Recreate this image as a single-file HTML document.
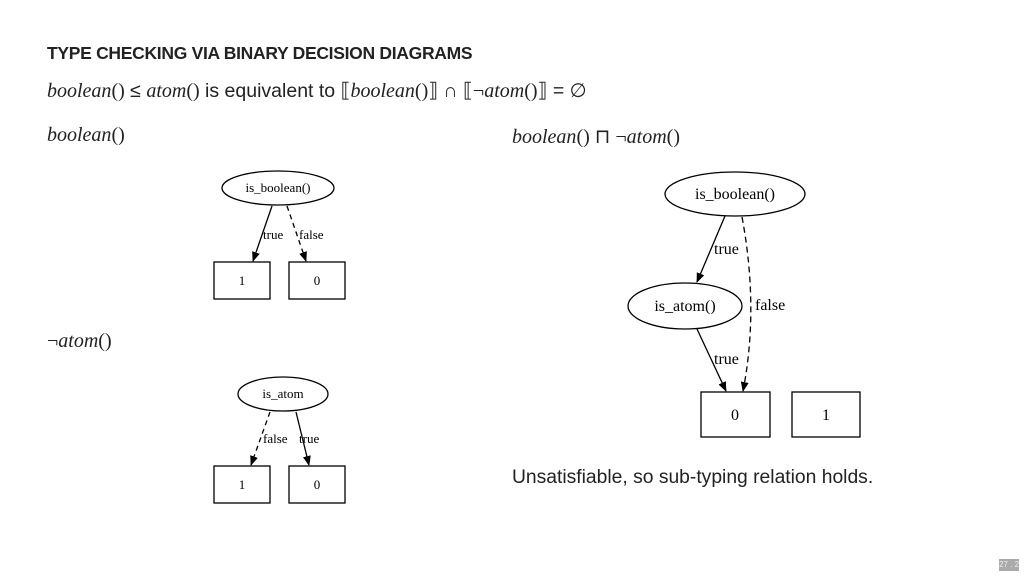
<!DOCTYPE html>
<html><head><style>
body{margin:0;width:1024px;height:576px;background:#fff;position:relative;overflow:hidden;font-family:"Liberation Sans",sans-serif;color:#222}
.t{position:absolute;white-space:nowrap}
i{font-family:"Liberation Serif",serif;}
.s{font-family:"Liberation Serif",serif;}
</style></head><body>
<div class="t" style="left:47px;top:43px;font-size:17.5px;font-weight:bold;letter-spacing:-0.3px">TYPE CHECKING VIA BINARY DECISION DIAGRAMS</div>
<div class="t" style="left:47px;top:78px;font-size:19.5px"><span class="s" style="font-size:20px"><i>boolean</i>()</span> ≤ <span class="s" style="font-size:20px"><i>atom</i>()</span> is equivalent to <span class="s" style="font-size:20px">⟦<i>boolean</i>()⟧</span> ∩ <span class="s" style="font-size:20px">⟦¬<i>atom</i>()⟧</span> = ∅</div>
<div class="t s" style="left:47px;top:124px;font-size:20px"><i>boolean</i>()</div>
<div class="t s" style="left:512px;top:124px;font-size:20px"><i>boolean</i>() ⊓ ¬<i>atom</i>()</div>
<div class="t s" style="left:47px;top:330px;font-size:20px">¬<i>atom</i>()</div>
<div class="t" style="left:512px;top:467px;font-size:19.3px">Unsatisfiable, so sub-typing relation holds.</div>
<div class="t" style="left:999px;top:559px;width:20px;height:12px;background:#aaa;color:#eee;font-size:8px;line-height:12px;text-align:center">27 . 2</div>
<svg width="1024" height="576" style="position:absolute;left:0;top:0" font-family="Liberation Serif,serif" fill="none" stroke="#000">
<defs><marker id="a" markerWidth="10" markerHeight="8" refX="9" refY="4" orient="auto" markerUnits="userSpaceOnUse"><path d="M0,0L10,4L0,8z" fill="#000" stroke="none"/></marker></defs>
<g stroke-width="1.3">
<ellipse cx="278" cy="188" rx="56" ry="17"/>
<rect x="214" y="262" width="56" height="37"/><rect x="289" y="262" width="56" height="37"/>
<line x1="272" y1="206" x2="253" y2="261" marker-end="url(#a)"/>
<line x1="287" y1="206" x2="306" y2="261" stroke-dasharray="5,4" marker-end="url(#a)"/>
<ellipse cx="283" cy="394" rx="45" ry="17"/>
<rect x="214" y="466" width="56" height="37"/><rect x="289" y="466" width="56" height="37"/>
<line x1="270" y1="412" x2="251" y2="465" stroke-dasharray="5,4" marker-end="url(#a)"/>
<line x1="296" y1="412" x2="309" y2="465" marker-end="url(#a)"/>
<ellipse cx="735" cy="194" rx="70" ry="22"/>
<ellipse cx="685" cy="306" rx="57" ry="23"/>
<rect x="701" y="392" width="69" height="45"/><rect x="792" y="392" width="68" height="45"/>
<line x1="725" y1="216" x2="697" y2="282" marker-end="url(#a)"/>
<path d="M742,217 C752,270 755,330 743,391" stroke-dasharray="6,4" marker-end="url(#a)"/>
<line x1="697" y1="329" x2="726" y2="391" marker-end="url(#a)"/>
</g>
<g fill="#000" stroke="none" font-size="13">
<text x="278" y="192" text-anchor="middle">is_boolean()</text>
<text x="242" y="285" text-anchor="middle">1</text><text x="317" y="285" text-anchor="middle">0</text>
<text x="263" y="239">true</text><text x="299" y="239">false</text>
<text x="283" y="398" text-anchor="middle">is_atom</text>
<text x="242" y="489" text-anchor="middle">1</text><text x="317" y="489" text-anchor="middle">0</text>
<text x="263" y="443">false</text><text x="299" y="443">true</text>
<g font-size="16">
<text x="735" y="199" text-anchor="middle">is_boolean()</text>
<text x="685" y="311" text-anchor="middle">is_atom()</text>
<text x="735" y="420" text-anchor="middle">0</text><text x="826" y="420" text-anchor="middle">1</text>
<text x="714" y="254">true</text><text x="755" y="310">false</text><text x="714" y="364">true</text>
</g></g>
</svg>
</body></html>
